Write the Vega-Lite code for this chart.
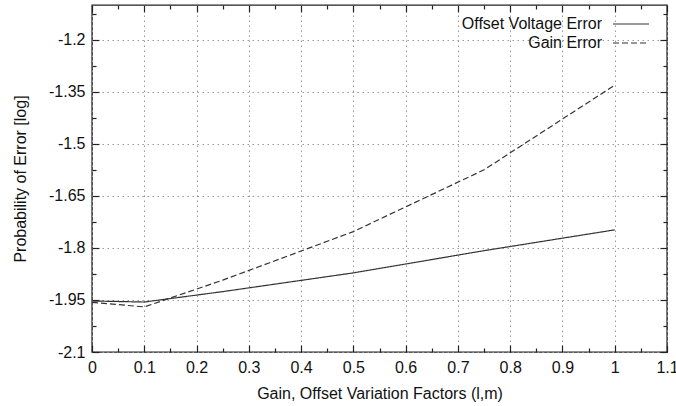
{
  "$schema": "https://vega.github.io/schema/vega-lite/v6.json",
  "autosize": {"type": "none"},
  "padding": {"left": 92, "top": 5, "right": 9, "bottom": 54},
  "width": 575,
  "height": 347,
  "background": "white",
  "data": {"values": [
    {"series": "Offset Voltage Error", "x": 0, "y": -1.953},
    {"series": "Offset Voltage Error", "x": 0.1, "y": -1.956},
    {"series": "Offset Voltage Error", "x": 0.25, "y": -1.926},
    {"series": "Offset Voltage Error", "x": 0.5, "y": -1.872},
    {"series": "Offset Voltage Error", "x": 0.75, "y": -1.808},
    {"series": "Offset Voltage Error", "x": 1.0, "y": -1.748},
    {"series": "Gain Error", "x": 0, "y": -1.957},
    {"series": "Gain Error", "x": 0.1, "y": -1.970},
    {"series": "Gain Error", "x": 0.25, "y": -1.893},
    {"series": "Gain Error", "x": 0.5, "y": -1.753},
    {"series": "Gain Error", "x": 0.75, "y": -1.575},
    {"series": "Gain Error", "x": 1.0, "y": -1.331}
  ]},
  "layer": [
    {
      "mark": {"type": "point", "opacity": 0},
      "encoding": {
        "x": {
          "field": "x", "type": "quantitative",
          "axis": {
            "orient": "top", "title": null, "labels": false, "grid": false,
            "values": [0.05, 0.15, 0.25, 0.35, 0.45, 0.55, 0.65, 0.75, 0.85, 0.95, 1.05],
            "tickSize": -4
          }
        },
        "y": {
          "field": "y", "type": "quantitative",
          "axis": {
            "orient": "right", "title": null, "labels": false, "grid": false,
            "values": [-2.025, -1.875, -1.725, -1.575, -1.425, -1.275, -1.125],
            "tickSize": -4
          }
        }
      }
    },
    {
      "mark": {"type": "point", "opacity": 0},
      "encoding": {
        "x": {
          "field": "x", "type": "quantitative",
          "axis": {
            "orient": "bottom", "title": null, "labels": false, "grid": false,
            "values": [0.05, 0.15, 0.25, 0.35, 0.45, 0.55, 0.65, 0.75, 0.85, 0.95, 1.05],
            "tickSize": -4
          }
        },
        "y": {
          "field": "y", "type": "quantitative",
          "axis": {
            "orient": "left", "title": null, "labels": false, "grid": false,
            "values": [-2.025, -1.875, -1.725, -1.575, -1.425, -1.275, -1.125],
            "tickSize": -4
          }
        }
      }
    },
    {
      "mark": {"type": "point", "opacity": 0},
      "encoding": {
        "x": {
          "field": "x", "type": "quantitative",
          "axis": {
            "orient": "top", "title": null, "labels": false, "grid": false,
            "values": [0, 0.1, 0.2, 0.3, 0.4, 0.5, 0.6, 0.7, 0.8, 0.9, 1, 1.1],
            "tickSize": -7
          }
        },
        "y": {
          "field": "y", "type": "quantitative",
          "axis": {
            "orient": "right", "title": null, "labels": false, "grid": false,
            "values": [-2.1, -1.95, -1.8, -1.65, -1.5, -1.35, -1.2],
            "tickSize": -7
          }
        }
      }
    },
    {
      "mark": {"type": "line", "color": "#333", "strokeWidth": 1.2},
      "encoding": {
        "x": {
          "field": "x", "type": "quantitative",
          "scale": {"domain": [0, 1.1], "nice": false, "zero": false},
          "axis": {
            "orient": "bottom",
            "title": "Gain, Offset Variation Factors (l,m)",
            "values": [0, 0.1, 0.2, 0.3, 0.4, 0.5, 0.6, 0.7, 0.8, 0.9, 1, 1.1],
            "labelExpr": "'' + datum.value",
            "tickSize": -7,
            "grid": true,
            "labelPadding": 14,
            "titlePadding": 10,
            "labelOverlap": false,
            "labelFlush": false
          }
        },
        "y": {
          "field": "y", "type": "quantitative",
          "scale": {"domain": [-2.1, -1.1], "nice": false, "zero": false},
          "axis": {
            "orient": "left",
            "title": "Probability of Error [log]",
            "values": [-2.1, -1.95, -1.8, -1.65, -1.5, -1.35, -1.2],
            "labelExpr": "'' + datum.value",
            "tickSize": -7,
            "grid": true,
            "labelPadding": 14,
            "titlePadding": 20,
            "labelOverlap": false,
            "labelFlush": false
          }
        },
        "strokeDash": {
          "field": "series", "type": "nominal",
          "scale": {"domain": ["Offset Voltage Error", "Gain Error"], "range": [[1, 0], [6, 3]]},
          "legend": {
            "title": null,
            "orient": "none",
            "legendX": 529,
            "legendY": 9,
            "padding": 0,
            "symbolType": "M-2,0H2",
            "symbolSize": 324,
            "symbolStrokeWidth": 1.2,
            "symbolStrokeColor": "#333",
            "labelAlign": "right",
            "labelOffset": -39,
            "labelFontSize": 16,
            "labelFont": "Liberation Sans",
            "labelColor": "#111",
            "labelLimit": 300,
            "rowPadding": 1
          }
        }
      }
    }
  ],
  "resolve": {"axis": {"x": "independent", "y": "independent"}},
  "config": {
    "font": "Liberation Sans",
    "view": {"stroke": "#222", "strokeWidth": 1.4},
    "axis": {
      "labelFont": "Liberation Sans",
      "labelFontSize": 16,
      "labelColor": "#111",
      "titleFont": "Liberation Sans",
      "titleFontSize": 16,
      "titleFontWeight": "normal",
      "titleColor": "#111",
      "domain": false,
      "tickColor": "#222",
      "tickWidth": 1.2,
      "gridColor": "#999",
      "gridDash": [1.5, 3.5],
      "gridWidth": 1
    }
  }
}
